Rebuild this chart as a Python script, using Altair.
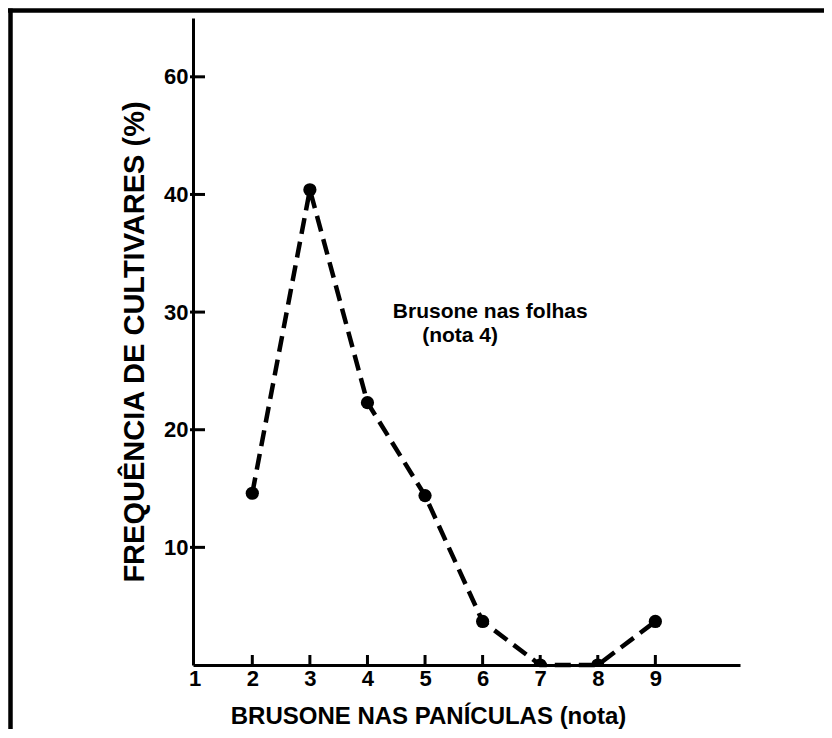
import altair as alt
import pandas as pd

# Data
notas = [2, 3, 4, 5, 6, 7, 8, 9]
frequencia = [14.6, 40.4, 22.3, 14.4, 3.7, 0.0, 0.0, 3.7]

x_ticks = [1, 2, 3, 4, 5, 6, 7, 8, 9]
x_tick_marks = [2, 3, 4, 5, 6, 7, 8, 9]
y_ticks = [10, 20, 30, 40, 50]

annot_lines = ["Brusone nas folhas", "(nota 4)"]
annot_x = [4.44, 4.95]
annot_y = [29.5, 27.5]

FONT = "Liberation Sans"
W, H = 547, 647

df = pd.DataFrame({"nota": notas, "freq": frequencia})
ann = pd.DataFrame({"txt": annot_lines, "x": annot_x, "y": annot_y})
yt = pd.DataFrame({"v": y_ticks})
xt = pd.DataFrame({"v": x_tick_marks})
one = pd.DataFrame({"a": [0]})

xscale = alt.Scale(domain=[0.97, 10.47], nice=False, zero=False)
yscale = alt.Scale(domain=[0, 55], nice=False)

x_enc = alt.X(
    "nota:Q",
    scale=xscale,
    axis=alt.Axis(
        values=x_ticks,
        ticks=False,
        grid=False,
        domainWidth=3,
        domainColor="black",
        labelFont=FONT,
        labelFontSize=22,
        labelFontWeight="bold",
        labelColor="black",
        labelPadding=3,
        format="d",
        title="BRUSONE NAS PANÍCULAS (nota)",
        titleFont=FONT,
        titleFontSize=24,
        titleFontWeight="bold",
        titleColor="black",
        titleX=235,
        titleY=58,
        titleAlign="center",
        titleBaseline="alphabetic",
    ),
)
y_enc = alt.Y(
    "freq:Q",
    scale=yscale,
    axis=alt.Axis(
        values=y_ticks,
        labelExpr="datum.value == 50 ? '60' : datum.label",
        ticks=False,
        grid=False,
        domainWidth=3,
        domainColor="black",
        labelFont=FONT,
        labelFontSize=22,
        labelFontWeight="bold",
        labelColor="black",
        labelPadding=5,
        title="FREQUÊNCIA DE CULTIVARES (%)",
        titleFont=FONT,
        titleFontSize=29,
        titleFontWeight="bold",
        titleColor="black",
        titlePadding=14,
    ),
)

line = alt.Chart(df).mark_line(
    color="black", strokeWidth=4.5, strokeDash=[16, 8]
).encode(x=x_enc, y=y_enc)

pts = alt.Chart(df).mark_circle(color="black", opacity=1, size=175, clip=True).encode(
    x=alt.X("nota:Q", scale=xscale), y=alt.Y("freq:Q", scale=yscale)
)

ytick_rules = alt.Chart(yt).mark_rule(color="black", strokeWidth=3).encode(
    y=alt.Y("v:Q", scale=yscale), x=alt.value(-3), x2=alt.value(12)
)
xtick_rules = alt.Chart(xt).mark_rule(color="black", strokeWidth=3).encode(
    x=alt.X("v:Q", scale=xscale), y=alt.value(H - 10), y2=alt.value(H)
)

text = alt.Chart(ann).mark_text(
    font=FONT, fontSize=21, fontWeight="bold", color="black",
    align="left", baseline="alphabetic"
).encode(
    x=alt.X("x:Q", scale=xscale), y=alt.Y("y:Q", scale=yscale), text="txt:N"
)

border_top = alt.Chart(one).mark_rule(color="black", strokeWidth=4.5).encode(
    x=alt.value(-185), x2=alt.value(660), y=alt.value(-7.5)
)
border_left = alt.Chart(one).mark_rule(color="black", strokeWidth=4.5).encode(
    x=alt.value(-182.5), y=alt.value(-9.5), y2=alt.value(730)
)

chart = alt.layer(
    border_top, border_left, line, pts, ytick_rules, xtick_rules, text
).properties(
    width=W,
    height=H,
    padding={"left": 185, "top": 10, "right": 84, "bottom": 64},
    autosize=alt.AutoSizeParams(type="none"),
).configure_view(stroke=None)

chart.save("out.html", embed_options={"renderer": "svg", "actions": False})
